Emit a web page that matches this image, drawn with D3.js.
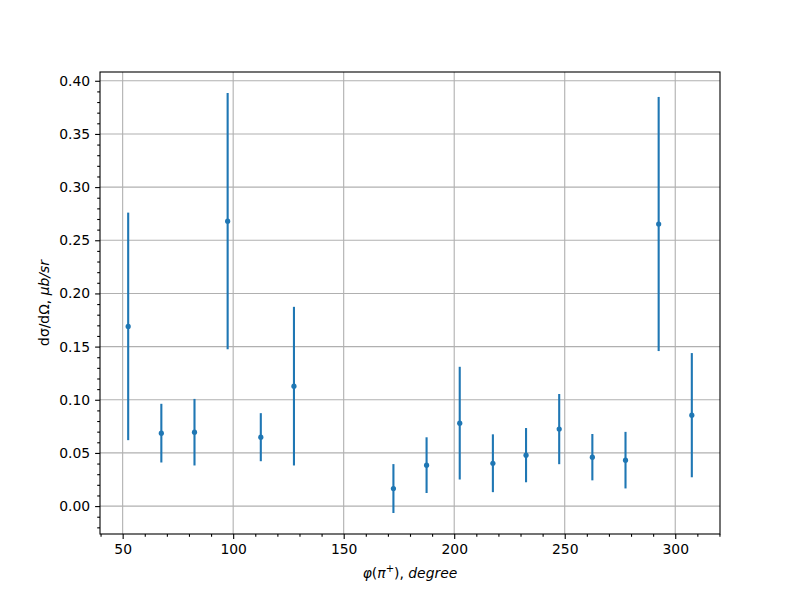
<!DOCTYPE html>
<html><head><meta charset="utf-8">
<script src="https://cdn.jsdelivr.net/npm/d3@7"></script>
<style>body{margin:0;background:#fff}svg{display:block}text{font-family:"DejaVu Sans",sans-serif}</style>
</head><body><svg id="c" width="800" height="600"></svg>
<script>
const phi = [52.5, 67.5, 82.5, 97.5, 112.5, 127.5, 172.5, 187.5, 202.5, 217.5, 232.5, 247.5, 262.5, 277.5, 292.5, 307.5];
const xsec = [0.169, 0.0686, 0.0695, 0.268, 0.0648, 0.1128, 0.0165, 0.0385, 0.078, 0.0403, 0.0479, 0.0724, 0.046, 0.0432, 0.2653, 0.0855];
const err = [0.107, 0.0276, 0.0313, 0.1205, 0.0226, 0.0746, 0.023, 0.0262, 0.053, 0.0272, 0.0255, 0.033, 0.0218, 0.0266, 0.1195, 0.0584];
const xTicks = [50, 100, 150, 200, 250, 300];
const yTicks = [0.00, 0.05, 0.10, 0.15, 0.20, 0.25, 0.30, 0.35, 0.40];

const L = 100, R = 720, T = 72, B = 534;
const svg = d3.select("#c");
const xmin = d3.min(phi), xmax = d3.max(phi);
const ylo = d3.min(xsec.map((v, i) => v - err[i])), yhi = d3.max(xsec.map((v, i) => v + err[i]));
const xm = (xmax - xmin) * 0.05, ym = (yhi - ylo) * 0.05;
const x = d3.scaleLinear().domain([xmin - xm, xmax + xm]).range([L, R]);
const y = d3.scaleLinear().domain([ylo - ym, yhi + ym]).range([B, T]);

// grid
const g = svg.append("g");
g.selectAll(".gx").data(xTicks).enter().append("line")
  .attr("x1", d => x(d)).attr("x2", d => x(d)).attr("y1", T).attr("y2", B)
  .attr("stroke", "#b0b0b0").attr("stroke-width", 1.1);
g.selectAll(".gy").data(yTicks).enter().append("line")
  .attr("y1", d => y(d)).attr("y2", d => y(d)).attr("x1", L).attr("x2", R)
  .attr("stroke", "#b0b0b0").attr("stroke-width", 1.1);

// error bars
const col = "#1f77b4";
svg.append("g").selectAll("line").data(phi).enter().append("line")
  .attr("x1", d => x(d)).attr("x2", d => x(d))
  .attr("y1", (d, i) => y(xsec[i] - err[i])).attr("y2", (d, i) => y(xsec[i] + err[i]))
  .attr("stroke", col).attr("stroke-width", 2.1);
svg.append("g").selectAll("circle").data(phi).enter().append("circle")
  .attr("cx", d => x(d)).attr("cy", (d, i) => y(xsec[i])).attr("r", 2.6).attr("fill", col);

// axes
svg.append("g").attr("transform", `translate(0,${B})`)
  .call(d3.axisBottom(x).tickValues(xTicks).tickFormat(d3.format("d")).tickSize(4.9).tickPadding(4.9));
svg.append("g").attr("transform", `translate(0,${B})`)
  .call(d3.axisBottom(x).tickValues(d3.range(40, 321, 10).filter(v => v % 50 !== 0)).tickFormat("").tickSize(2.8));
svg.append("g").attr("transform", `translate(${L},0)`)
  .call(d3.axisLeft(y).tickValues(yTicks).tickFormat(d3.format(".2f")).tickSize(4.9).tickPadding(4.9));
svg.append("g").attr("transform", `translate(${L},0)`)
  .call(d3.axisLeft(y).tickValues(d3.range(-2, 41, 1).map(v => v / 100).filter(v => Math.round(v * 100) % 5 !== 0)).tickFormat("").tickSize(2.8));
svg.selectAll(".tick text").attr("font-size", 13.9).attr("fill", "#000").attr("font-family", "DejaVu Sans");
svg.selectAll(".tick line").attr("stroke", "#000").attr("stroke-width", 1.1);
svg.selectAll(".domain").remove();
// frame
svg.append("rect").attr("x", L).attr("y", T).attr("width", R - L).attr("height", B - T)
  .attr("fill", "none").attr("stroke", "#000").attr("stroke-width", 1.1);

// labels
const xl = svg.append("text").attr("x", (L + R) / 2).attr("y", 578).attr("text-anchor", "middle")
  .attr("font-size", 13.9).attr("font-family", "DejaVu Sans");
xl.append("tspan").attr("font-style", "italic").text("φ");
xl.append("tspan").text("(");
xl.append("tspan").attr("font-style", "italic").text("π");
xl.append("tspan").attr("font-size", 10).attr("dy", -6).text("+");
xl.append("tspan").attr("dy", 6).text("),");
xl.append("tspan").attr("font-style", "italic").text(" degree");

const yl = svg.append("text").attr("transform", `translate(49,${(T + B) / 2}) rotate(-90)`)
  .attr("text-anchor", "middle").attr("font-size", 13.9).attr("font-family", "DejaVu Sans");
yl.append("tspan").text("dσ/dΩ, ");
yl.append("tspan").attr("font-style", "italic").text("μb/sr");
</script></body></html>
